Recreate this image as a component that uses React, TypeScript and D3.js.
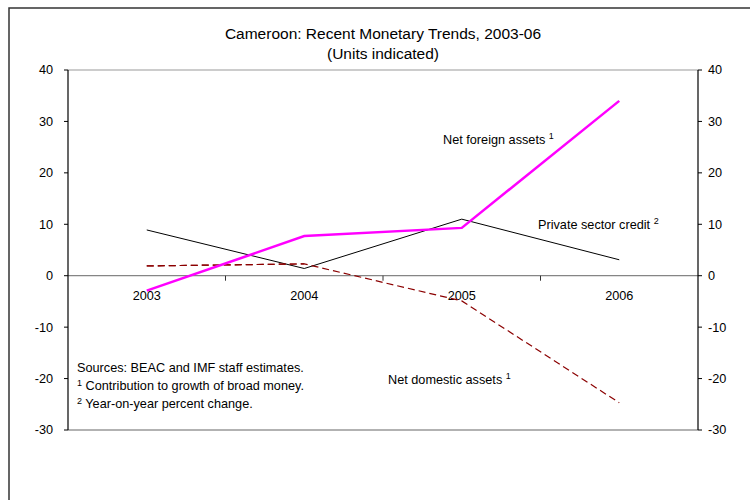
import React from "react";
import * as d3 from "d3";

const years = ["2003", "2004", "2005", "2006"];
const netForeignAssets = [-2.9, 7.7, 9.3, 34.0];
const privateSectorCredit = [8.9, 1.4, 11.0, 3.1];
const netDomesticAssets = [1.9, 2.3, -4.9, -24.7];
const yTicks = [40, 30, 20, 10, 0, -10, -20, -30];

const W = 750, H = 500;
const left = 68, right = 698, top = 70, bottom = 430;
const font = "Liberation Sans, Arial, sans-serif";
const fs = 12.7;

export default function App() {
  const x = d3.scaleBand<string>().domain(years).range([left, right]);
  const y = d3.scaleLinear().domain([-30, 40]).range([bottom, top]);
  const cx = (d: string) => (x(d) as number) + x.bandwidth() / 2;
  const line = d3.line<number>().x((_, i) => cx(years[i])).y((v) => y(v));
  const ndaFirst = line(netDomesticAssets.slice(0, 2));

  return (
    <svg width={W} height={H} style={{ position: "absolute", left: 0, top: 0 }}>
      <rect x={0} y={0} width={W} height={H} fill="#fff" />
      <rect x={9} y={8} width={W + 20} height={H + 20} fill="none" stroke="#333" strokeWidth={1.5} />
      <text x={383} y={39} textAnchor="middle" fontFamily={font} fontSize={15.5}>Cameroon: Recent Monetary Trends, 2003-06</text>
      <text x={383} y={59} textAnchor="middle" fontFamily={font} fontSize={15.5}>(Units indicated)</text>

      <line x1={left} x2={right} y1={top} y2={top} stroke="#999" strokeWidth={1} />
      <line x1={left} x2={right} y1={bottom} y2={bottom} stroke="#999" strokeWidth={1.5} />
      <line x1={left} x2={right} y1={y(0)} y2={y(0)} stroke="#666" strokeWidth={1} />
      {years.slice(1).map((yr) => (
        <line key={yr} x1={x(yr)} x2={x(yr)} y1={y(0)} y2={y(0) + 5} stroke="#333" />
      ))}
      <line x1={left} x2={left} y1={top} y2={bottom} stroke="#000" strokeWidth={1.2} />
      <line x1={right} x2={right} y1={top} y2={bottom} stroke="#000" strokeWidth={1.2} />
      {yTicks.map((t) => (
        <g key={t}>
          <line x1={left - 4} x2={left} y1={y(t)} y2={y(t)} stroke="#000" />
          <line x1={right} x2={right + 4} y1={y(t)} y2={y(t)} stroke="#000" />
          <text x={left - 15} y={y(t)} dy="0.35em" textAnchor="end" fontFamily={font} fontSize={fs}>{t}</text>
          <text x={right + 10} y={y(t)} dy="0.35em" textAnchor="start" fontFamily={font} fontSize={fs}>{t}</text>
        </g>
      ))}
      {years.map((yr) => (
        <text key={yr} x={cx(yr)} y={y(0) + 20} dy="0.35em" textAnchor="middle" fontFamily={font} fontSize={fs}>{yr}</text>
      ))}

      <path d={line(privateSectorCredit) || ""} fill="none" stroke="#000" strokeWidth={1} />
      <path d={line(netDomesticAssets) || ""} fill="none" stroke="#8B0000" strokeWidth={1.2} strokeDasharray="7,4" />
      <path d={ndaFirst || ""} fill="none" stroke="#8B0000" strokeWidth={1.2} strokeDasharray="7,4" />
      <path d={line(netForeignAssets) || ""} fill="none" stroke="#FF00FF" strokeWidth={2.5} />

      <text x={443} y={144} fontFamily={font} fontSize={fs}>Net foreign assets <tspan fontSize={9} dy={-5}>1</tspan></text>
      <text x={538} y={229} fontFamily={font} fontSize={fs}>Private sector credit <tspan fontSize={9} dy={-5}>2</tspan></text>
      <text x={388} y={384} fontFamily={font} fontSize={fs}>Net domestic assets <tspan fontSize={9} dy={-5}>1</tspan></text>

      <text x={77} y={372} fontFamily={font} fontSize={fs}>Sources: BEAC and IMF staff estimates.</text>
      <text x={77} y={390} fontFamily={font} fontSize={fs}><tspan fontSize={9} dy={-4}>1</tspan><tspan dy={4}> Contribution to growth of broad money.</tspan></text>
      <text x={77} y={408} fontFamily={font} fontSize={fs}><tspan fontSize={9} dy={-4}>2</tspan><tspan dy={4}> Year-on-year percent change.</tspan></text>
    </svg>
  );
}
